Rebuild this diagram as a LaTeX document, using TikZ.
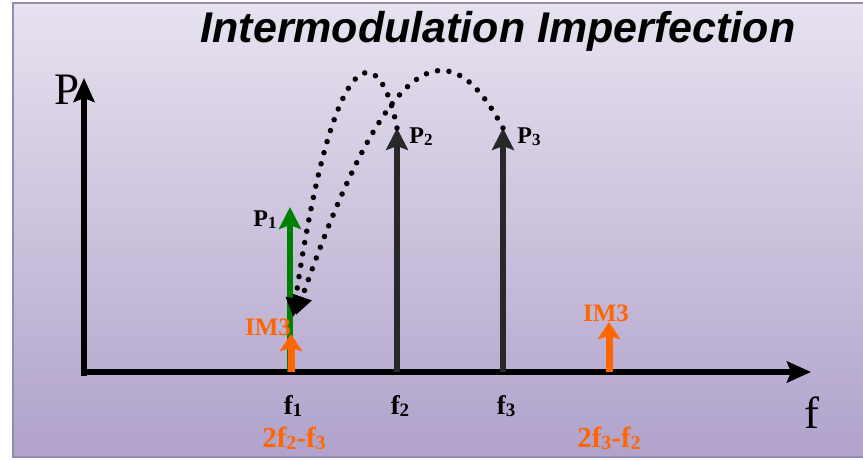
\documentclass[tikz,border=0pt]{standalone}
\usepackage{fontspec}
\setmainfont{Liberation Serif}
\newfontfamily\titlefont{Liberation Sans}
\usetikzlibrary{arrows.meta}
\definecolor{bgtop}{RGB}{231,226,239}
\definecolor{bgbot}{RGB}{176,162,203}
\definecolor{frameclr}{RGB}{150,138,180}
\definecolor{imorange}{RGB}{255,102,0}
\definecolor{pgreen}{RGB}{0,128,0}
\definecolor{pdark}{RGB}{40,40,40}
\newcommand\lowsub[2]{{\fontsize{#1}{#1}\selectfont\raisebox{-2pt}{#2}}}
\begin{document}
\begin{tikzpicture}[x=1pt,y=-1pt,
  axisarrow/.style={line width=6.5pt, black, -{Stealth[length=24pt,width=21pt,inset=4pt]}},
  tone/.style={line width=6.5pt, -{Stealth[length=22pt,width=22pt,inset=4pt]}},
  imtone/.style={line width=7pt, imorange, -{Stealth[length=17pt,width=22pt,inset=3pt]}},
  lbl/.style={inner sep=0pt, font=\fontsize{24}{26}\selectfont\bfseries},
  flbl/.style={inner sep=0pt, font=\fontsize{27}{29}\selectfont\bfseries},
  imlbl/.style={inner sep=0pt, text=imorange, font=\fontsize{25}{27}\selectfont\bfseries},
  mixlbl/.style={inner sep=0pt, text=imorange, font=\fontsize{29}{31}\selectfont\bfseries},
  axlbl/.style={inner sep=0pt, font=\fontsize{45}{45}\selectfont},
  mixcurve/.style={line width=5.5pt, black, dash pattern=on 0pt off 11.5pt, line cap=round,
     -{Triangle[length=19pt,width=19pt]}}]
\useasboundingbox (0,0) rectangle (863,459);
% background panel
\shade[top color=bgtop, bottom color=bgbot] (13,3) rectangle (870,457);
\draw[frameclr, line width=1.5pt] (13,3) rectangle (870,457);
% title
\node[inner sep=0pt, font=\titlefont\fontsize{43}{45}\selectfont\bfseries\itshape] (title) at (498,31) {Intermodulation Imperfection};
% axes
\coordinate (ybase) at (84,376);
\coordinate (ytip) at (84,78);
\coordinate (xbase) at (81,372);
\coordinate (xtip) at (811,372);
\draw[axisarrow] (ybase) -- (ytip);
\draw[axisarrow] (xbase) -- (xtip);
\node[axlbl] (plabel) at (67,90) {P};
\node[axlbl] (flabel) at (812,413) {f};
% tones
\coordinate (b1) at (290,372); \coordinate (t1) at (290,207);
\coordinate (b2) at (397,372); \coordinate (t2) at (397,128);
\coordinate (b3) at (503,372); \coordinate (t3) at (503,128);
\coordinate (bi1) at (291,372); \coordinate (ti1) at (291,334);
\coordinate (bi2) at (609,372); \coordinate (ti2) at (609,322);
\draw[tone, pgreen] (b1) -- (t1);
\draw[tone, pdark] (b2) -- (t2);
\draw[tone, pdark] (b3) -- (t3);
\draw[imtone] (bi1) -- (ti1);
\draw[imtone] (bi2) -- (ti2);
% labels
\node[lbl] (p1) at (265,220) {P\lowsub{17}{1}};
\node[lbl] (p2) at (421,137) {P\lowsub{17}{2}};
\node[lbl] (p3) at (529,137) {P\lowsub{17}{3}};
\node[imlbl] (im1) at (268,327) {IM3};
\node[imlbl] (im2) at (606,313) {IM3};
\node[flbl] (f1) at (293,406) {f\lowsub{19}{1}};
\node[flbl] (f2) at (400,406) {f\lowsub{19}{2}};
\node[flbl] (f3) at (506,406) {f\lowsub{19}{3}};
\node[mixlbl] (m1) at (294,438) {2f\lowsub{20}{2}-f\lowsub{20}{3}};
\node[mixlbl] (m2) at (609,438) {2f\lowsub{20}{3}-f\lowsub{20}{2}};
% mixing curves
\coordinate (c1end) at (293,317);
\coordinate (c2end) at (296,315);
\draw[mixcurve] (t2) .. controls (380,40) and (335,30) .. (c1end);
\draw[mixcurve] (t3) .. controls (458,45) and (400,15) .. (c2end);
\end{tikzpicture}
\end{document}
